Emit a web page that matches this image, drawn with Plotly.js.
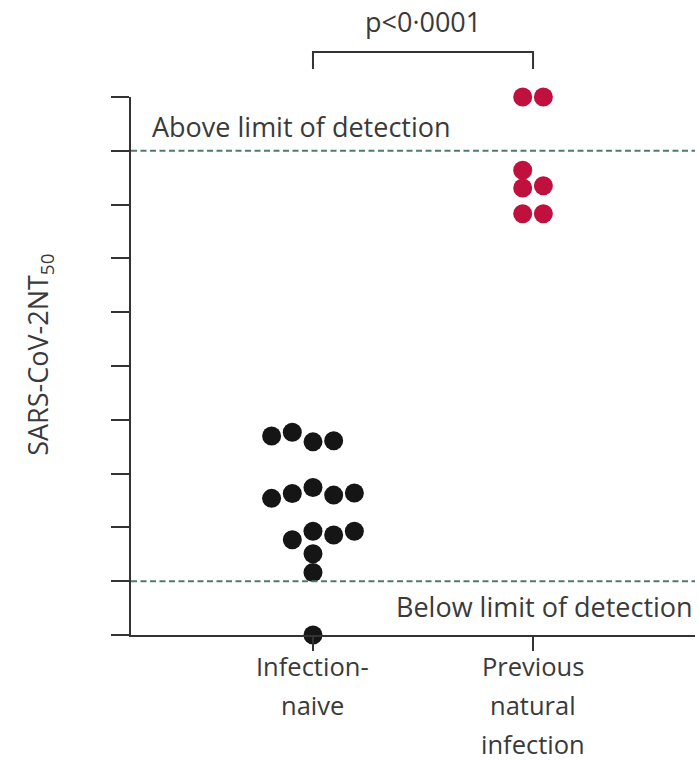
<!DOCTYPE html>
<html><head><meta charset="utf-8">
<script src="https://cdn.plot.ly/plotly-3.0.1.min.js"></script>
<style>html,body{margin:0;padding:0;background:#fff}#chart{width:698px;height:761px}</style>
</head><body><div id="chart"></div>
<script>
// ---- data ----
const groups = ['Infection-naive', 'Previous natural infection'];
const groupLabelLines = [['Infection-', 'naive'], ['Previous', 'natural', 'infection']];
// SARS-CoV-2 NT50 positions on the (unlabelled) axis, 0..10 tick units
const naiveValues = [3.70, 3.77, 3.59, 3.61, 2.54, 2.63, 2.74, 2.60, 2.64, 1.77, 1.93, 1.86, 1.93, 1.51, 1.16, 0.00];
const naiveSlots  = [-2, -1, 0, 1, -2, -1, 0, 1, 2, -1, 0, 1, 2, 0, 0, 0];
const priorValues = [10.0, 10.0, 8.64, 8.31, 8.35, 7.83, 7.83];
const priorSlots  = [-0.5, 0.5, -0.5, -0.5, 0.5, -0.5, 0.5];
const yTickVals = [0, 1, 2, 3, 4, 5, 6, 7, 8, 9, 10];
const lowerLimit = 1;
const upperLimit = 9;
const aboveText = 'Above limit of detection';
const belowText = 'Below limit of detection';
const pText = 'p<0·0001';
const yTitle = 'SARS-CoV-2NT<sub>50</sub>';

// ---- styling ----
const FONT = '"Open Sans", "Liberation Sans", sans-serif';
const TXT = '#3a3a3a';
const AX = '#333333';
const slotW = 0.094;
const xRange = [-0.827, 1.736];
const yRange = [0, 10];

function xs(groupIdx, slots) { return slots.map(s => groupIdx + s * slotW); }
function xPaper(v) { return (v - xRange[0]) / (xRange[1] - xRange[0]); }

const traces = [
  { type: 'scatter', mode: 'markers', name: groups[0],
    x: xs(0, naiveSlots), y: naiveValues, cliponaxis: false,
    marker: { size: 19, color: '#151515', line: { width: 0 } }, hoverinfo: 'y' },
  { type: 'scatter', mode: 'markers', name: groups[1],
    x: xs(1, priorSlots), y: priorValues, cliponaxis: false,
    marker: { size: 19, color: '#c0103e', line: { width: 0 } }, hoverinfo: 'y' }
];

const annotations = [
  { text: aboveText, xref: 'paper', x: 0.034, xanchor: 'left', yref: 'y', y: upperLimit, yanchor: 'bottom', yshift: 4,
    showarrow: false, font: { family: FONT, size: 27, color: TXT } },
  { text: belowText, xref: 'paper', x: 1.0, xanchor: 'right', yref: 'y', y: lowerLimit, yanchor: 'top', yshift: -5,
    showarrow: false, font: { family: FONT, size: 27, color: TXT } },
  { text: pText, xref: 'x', x: 0.5, xanchor: 'center', yref: 'paper', y: 1.0836, yanchor: 'bottom', yshift: 10,
    showarrow: false, font: { family: FONT, size: 27, color: TXT } },
  { text: yTitle, xref: 'paper', x: -0.162, xanchor: 'center', yref: 'paper', y: 0.52, yanchor: 'middle',
    textangle: -90, showarrow: false, font: { family: FONT, size: 27, color: TXT } }
];
groupLabelLines.forEach((lines, gi) => {
  lines.forEach((line, li) => {
    annotations.push({ text: line, xref: 'x', x: gi, xanchor: 'center', yref: 'paper', y: 0, yanchor: 'top',
      yshift: -(13 + 39 * li), borderpad: 0, showarrow: false, font: { family: FONT, size: 25.5, color: TXT } });
  });
});

const bx0 = xPaper(0), bx1 = xPaper(1);
const shapes = [
  { type: 'line', xref: 'paper', x0: 0, x1: 1, yref: 'y', y0: upperLimit, y1: upperLimit,
    line: { color: '#4f7a72', width: 2, dash: '6px,3.5px' } },
  { type: 'line', xref: 'paper', x0: 0, x1: 1, yref: 'y', y0: lowerLimit, y1: lowerLimit,
    line: { color: '#4f7a72', width: 2, dash: '6px,3.5px' } },
  { type: 'path', xref: 'paper', yref: 'paper',
    path: `M ${bx0} 1.052 L ${bx0} 1.0836 L ${bx1} 1.0836 L ${bx1} 1.052`,
    line: { color: AX, width: 2 } }
];

const layout = {
  width: 698, height: 761,
  margin: { l: 131, r: 3, t: 97, b: 126, pad: 0 },
  paper_bgcolor: '#ffffff', plot_bgcolor: '#ffffff',
  showlegend: false,
  font: { family: FONT, color: TXT },
  xaxis: { range: xRange, showgrid: false, zeroline: false, showline: true, linecolor: AX, linewidth: 2,
    ticks: 'outside', ticklen: 14, tickwidth: 2, tickcolor: AX, tickvals: [0, 1], showticklabels: false, fixedrange: true },
  yaxis: { range: yRange, showgrid: false, zeroline: false, showline: true, linecolor: AX, linewidth: 2,
    ticks: 'outside', ticklen: 18, tickwidth: 2, tickcolor: AX, tickvals: yTickVals, showticklabels: false, fixedrange: true },
  annotations: annotations,
  shapes: shapes
};

Plotly.newPlot('chart', traces, layout, { displayModeBar: false, staticPlot: true });
</script>
</body></html>
